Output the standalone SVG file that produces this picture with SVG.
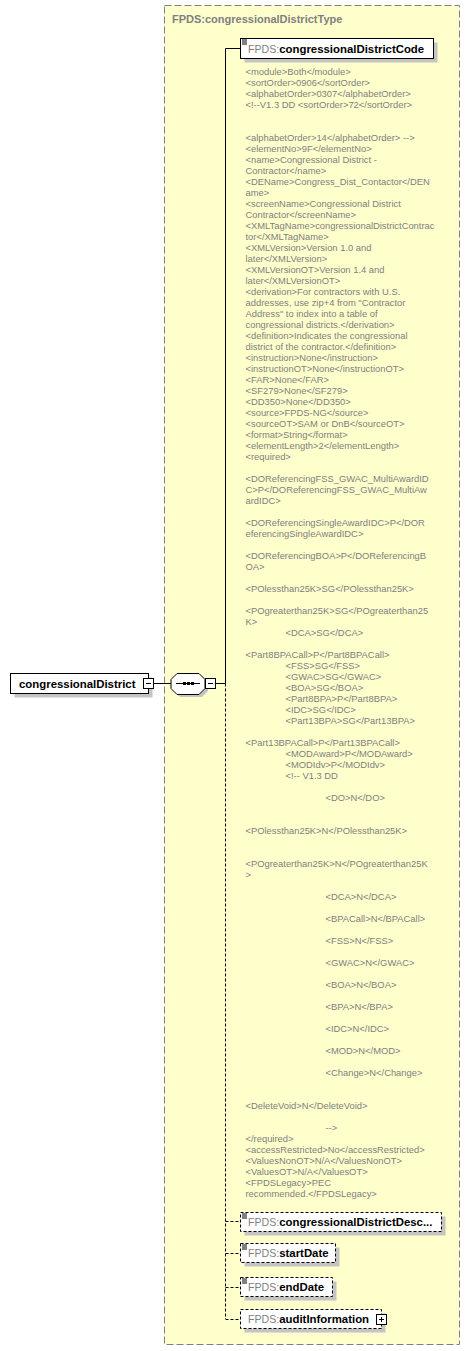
<svg xmlns="http://www.w3.org/2000/svg" width="470" height="1351" viewBox="0 0 470 1351">
<style>
.bg{fill:#ffffcc;stroke:#808080;stroke-width:1;stroke-dasharray:7,3}
.title{font-family:"Liberation Sans",Arial,sans-serif;font-size:11px;font-weight:bold;fill:#808080}
.shadow{fill:#c4c4c4}
.box{fill:#ffffff;stroke:#000000;stroke-width:1}
.opt{fill:#ffffff;stroke:#000000;stroke-width:1;stroke-dasharray:3,2}
.name{font-family:"Liberation Sans",Arial,sans-serif;font-size:11.4px;font-weight:bold;fill:#000000}
.pre{font-family:"Liberation Sans",Arial,sans-serif;font-size:10.6px;font-weight:normal;fill:#808080}
.doc{font-family:"Liberation Sans",Arial,sans-serif;font-size:9.4px;fill:#808080}
.ln{stroke:#000000;stroke-width:1;fill:none}
.dl{stroke:#000000;stroke-width:1;fill:none;stroke-dasharray:3,2}
.ic{stroke:#000000;stroke-width:1}
</style>
<defs>
<g id="docicon"><path class="ic" d="M0 0.5h5M0 2.5h5M0 4.5h5"/></g>
<g id="minus"><rect x="0.5" y="0.5" width="10" height="10" fill="#ffffff" stroke="#000000"/><path d="M3 5.5h5" stroke="#000000"/></g>
<g id="plus"><rect x="0.5" y="0.5" width="10" height="10" fill="#ffffff" stroke="#000000"/><path d="M3 5.5h5M5.5 3v5" stroke="#000000"/></g>
</defs>
<g id="type-box">
<rect class="bg" x="164.5" y="5.5" width="295" height="1339"/>
<text class="title" x="172" y="22.5">FPDS:congressionalDistrictType</text>
</g>
<g id="connectors">
<path class="ln" d="M154 683.5H171"/>
<path class="ln" d="M216 683.5H225.5"/>
<path class="ln" d="M225.5 683.5V48.5H240"/>
<path class="dl" d="M225.5 683.5V1319"/>
<path class="dl" d="M225.5 1221.5H240"/>
<path class="dl" d="M225.5 1253.5H240"/>
<path class="dl" d="M225.5 1287.5H240"/>
<path class="dl" d="M225.5 1319.5H240"/>
</g>
<g id="node-congressionalDistrict">
<rect class="shadow" x="14.5" y="677.5" width="138" height="20"/>
<rect class="box" x="10.5" y="673.5" width="138" height="20"/>
<text class="name" x="19" y="687.5">congressionalDistrict</text>
<use href="#minus" x="143" y="678"/>
</g>
<g id="node-sequence">
<path class="shadow" d="M180 676H202L208 682V691L202 697H180L174 691V682Z"/>
<path fill="#ffffff" stroke="#000000" d="M177 673.5H199L205 679.5V688.5L199 694.5H177L171 688.5V679.5Z"/>
<path class="ln" d="M176 683.5H200"/>
<rect x="183" y="682" width="3" height="3" fill="#000000"/>
<rect x="187" y="682" width="3" height="3" fill="#000000"/>
<rect x="191" y="682" width="3" height="3" fill="#000000"/>
<use href="#minus" x="205" y="678"/>
</g>
<g id="node-congressionalDistrictCode">
<rect class="shadow" x="244.5" y="42.5" width="193" height="20"/>
<rect class="box" x="240.5" y="38.5" width="193" height="20"/>
<use href="#docicon" x="242" y="39.5"/>
<text x="248" y="52.5"><tspan class="pre">FPDS:</tspan><tspan class="name">congressionalDistrictCode</tspan></text>
</g>
<g id="annotation-congressionalDistrictCode" class="doc">
<text x="245.5" y="74.5">&lt;module&gt;Both&lt;/module&gt;</text>
<text x="245.5" y="85.5">&lt;sortOrder&gt;0906&lt;/sortOrder&gt;</text>
<text x="245.5" y="96.5">&lt;alphabetOrder&gt;0307&lt;/alphabetOrder&gt;</text>
<text x="245.5" y="107.5">&lt;!--V1.3 DD &lt;sortOrder&gt;72&lt;/sortOrder&gt;</text>
<text x="245.5" y="140.5">&lt;alphabetOrder&gt;14&lt;/alphabetOrder&gt; --&gt;</text>
<text x="245.5" y="151.5">&lt;elementNo&gt;9F&lt;/elementNo&gt;</text>
<text x="245.5" y="162.5">&lt;name&gt;Congressional District -</text>
<text x="245.5" y="173.5">Contractor&lt;/name&gt;</text>
<text x="245.5" y="184.5">&lt;DEName&gt;Congress_Dist_Contactor&lt;/DEN</text>
<text x="245.5" y="195.5">ame&gt;</text>
<text x="245.5" y="206.5">&lt;screenName&gt;Congressional District</text>
<text x="245.5" y="217.5">Contractor&lt;/screenName&gt;</text>
<text x="245.5" y="228.5">&lt;XMLTagName&gt;congressionalDistrictContrac</text>
<text x="245.5" y="239.5">tor&lt;/XMLTagName&gt;</text>
<text x="245.5" y="250.5">&lt;XMLVersion&gt;Version 1.0 and</text>
<text x="245.5" y="261.5">later&lt;/XMLVersion&gt;</text>
<text x="245.5" y="272.5">&lt;XMLVersionOT&gt;Version 1.4 and</text>
<text x="245.5" y="283.5">later&lt;/XMLVersionOT&gt;</text>
<text x="245.5" y="294.5">&lt;derivation&gt;For contractors with U.S.</text>
<text x="245.5" y="305.5">addresses, use zip+4 from "Contractor</text>
<text x="245.5" y="316.5">Address" to index into a table of</text>
<text x="245.5" y="327.5">congressional districts.&lt;/derivation&gt;</text>
<text x="245.5" y="338.5">&lt;definition&gt;Indicates the congressional</text>
<text x="245.5" y="349.5">district of the contractor.&lt;/definition&gt;</text>
<text x="245.5" y="360.5">&lt;instruction&gt;None&lt;/instruction&gt;</text>
<text x="245.5" y="371.5">&lt;instructionOT&gt;None&lt;/instructionOT&gt;</text>
<text x="245.5" y="382.5">&lt;FAR&gt;None&lt;/FAR&gt;</text>
<text x="245.5" y="393.5">&lt;SF279&gt;None&lt;/SF279&gt;</text>
<text x="245.5" y="404.5">&lt;DD350&gt;None&lt;/DD350&gt;</text>
<text x="245.5" y="415.5">&lt;source&gt;FPDS-NG&lt;/source&gt;</text>
<text x="245.5" y="426.5">&lt;sourceOT&gt;SAM or DnB&lt;/sourceOT&gt;</text>
<text x="245.5" y="437.5">&lt;format&gt;String&lt;/format&gt;</text>
<text x="245.5" y="448.5">&lt;elementLength&gt;2&lt;/elementLength&gt;</text>
<text x="245.5" y="459.5">&lt;required&gt;</text>
<text x="245.5" y="481.5">&lt;DOReferencingFSS_GWAC_MultiAwardID</text>
<text x="245.5" y="492.5">C&gt;P&lt;/DOReferencingFSS_GWAC_MultiAw</text>
<text x="245.5" y="503.5">ardIDC&gt;</text>
<text x="245.5" y="525.5">&lt;DOReferencingSingleAwardIDC&gt;P&lt;/DOR</text>
<text x="245.5" y="536.5">eferencingSingleAwardIDC&gt;</text>
<text x="245.5" y="558.5">&lt;DOReferencingBOA&gt;P&lt;/DOReferencingB</text>
<text x="245.5" y="569.5">OA&gt;</text>
<text x="245.5" y="591.5">&lt;POlessthan25K&gt;SG&lt;/POlessthan25K&gt;</text>
<text x="245.5" y="613.5">&lt;POgreaterthan25K&gt;SG&lt;/POgreaterthan25</text>
<text x="245.5" y="624.5">K&gt;</text>
<text x="285.5" y="635.5">&lt;DCA&gt;SG&lt;/DCA&gt;</text>
<text x="245.5" y="657.5">&lt;Part8BPACall&gt;P&lt;/Part8BPACall&gt;</text>
<text x="285.5" y="668.5">&lt;FSS&gt;SG&lt;/FSS&gt;</text>
<text x="285.5" y="679.5">&lt;GWAC&gt;SG&lt;/GWAC&gt;</text>
<text x="285.5" y="690.5">&lt;BOA&gt;SG&lt;/BOA&gt;</text>
<text x="285.5" y="701.5">&lt;Part8BPA&gt;P&lt;/Part8BPA&gt;</text>
<text x="285.5" y="712.5">&lt;IDC&gt;SG&lt;/IDC&gt;</text>
<text x="285.5" y="723.5">&lt;Part13BPA&gt;SG&lt;/Part13BPA&gt;</text>
<text x="245.5" y="745.5">&lt;Part13BPACall&gt;P&lt;/Part13BPACall&gt;</text>
<text x="285.5" y="756.5">&lt;MODAward&gt;P&lt;/MODAward&gt;</text>
<text x="285.5" y="767.5">&lt;MODIdv&gt;P&lt;/MODIdv&gt;</text>
<text x="285.5" y="778.5">&lt;!-- V1.3 DD</text>
<text x="325.5" y="800.5">&lt;DO&gt;N&lt;/DO&gt;</text>
<text x="245.5" y="833.5">&lt;POlessthan25K&gt;N&lt;/POlessthan25K&gt;</text>
<text x="245.5" y="866.5">&lt;POgreaterthan25K&gt;N&lt;/POgreaterthan25K</text>
<text x="245.5" y="877.5">&gt;</text>
<text x="325.5" y="899.5">&lt;DCA&gt;N&lt;/DCA&gt;</text>
<text x="325.5" y="921.5">&lt;BPACall&gt;N&lt;/BPACall&gt;</text>
<text x="325.5" y="943.5">&lt;FSS&gt;N&lt;/FSS&gt;</text>
<text x="325.5" y="965.5">&lt;GWAC&gt;N&lt;/GWAC&gt;</text>
<text x="325.5" y="987.5">&lt;BOA&gt;N&lt;/BOA&gt;</text>
<text x="325.5" y="1009.5">&lt;BPA&gt;N&lt;/BPA&gt;</text>
<text x="325.5" y="1031.5">&lt;IDC&gt;N&lt;/IDC&gt;</text>
<text x="325.5" y="1053.5">&lt;MOD&gt;N&lt;/MOD&gt;</text>
<text x="325.5" y="1075.5">&lt;Change&gt;N&lt;/Change&gt;</text>
<text x="245.5" y="1108.5">&lt;DeleteVoid&gt;N&lt;/DeleteVoid&gt;</text>
<text x="325.5" y="1130.5">--&gt;</text>
<text x="245.5" y="1141.5">&lt;/required&gt;</text>
<text x="245.5" y="1152.5">&lt;accessRestricted&gt;No&lt;/accessRestricted&gt;</text>
<text x="245.5" y="1163.5">&lt;ValuesNonOT&gt;N/A&lt;/ValuesNonOT&gt;</text>
<text x="245.5" y="1174.5">&lt;ValuesOT&gt;N/A&lt;/ValuesOT&gt;</text>
<text x="245.5" y="1185.5">&lt;FPDSLegacy&gt;PEC</text>
<text x="245.5" y="1196.5">recommended.&lt;/FPDSLegacy&gt;</text>
</g>
<g id="node-congressionalDistrictDescription">
<rect class="shadow" x="244.5" y="1216.5" width="201" height="19"/>
<rect class="opt" x="240.5" y="1212.5" width="201" height="19"/>
<use href="#docicon" x="242" y="1213.5"/>
<text x="248" y="1226"><tspan class="pre">FPDS:</tspan><tspan class="name">congressionalDistrictDesc...</tspan></text>
</g>
<g id="node-startDate">
<rect class="shadow" x="244.5" y="1247.5" width="95" height="19"/>
<rect class="opt" x="240.5" y="1243.5" width="95" height="19"/>
<use href="#docicon" x="242" y="1244.5"/>
<text x="248" y="1257"><tspan class="pre">FPDS:</tspan><tspan class="name">startDate</tspan></text>
</g>
<g id="node-endDate">
<rect class="shadow" x="244.5" y="1281.5" width="92" height="19"/>
<rect class="opt" x="240.5" y="1277.5" width="92" height="19"/>
<use href="#docicon" x="242" y="1278.5"/>
<text x="248" y="1291"><tspan class="pre">FPDS:</tspan><tspan class="name">endDate</tspan></text>
</g>
<g id="node-auditInformation">
<rect class="shadow" x="244.5" y="1313.5" width="141" height="19"/>
<rect class="opt" x="240.5" y="1309.5" width="141" height="19"/>
<text x="248" y="1323"><tspan class="pre">FPDS:</tspan><tspan class="name">auditInformation</tspan></text>
<use href="#plus" x="376" y="1314"/>
</g>
</svg>
